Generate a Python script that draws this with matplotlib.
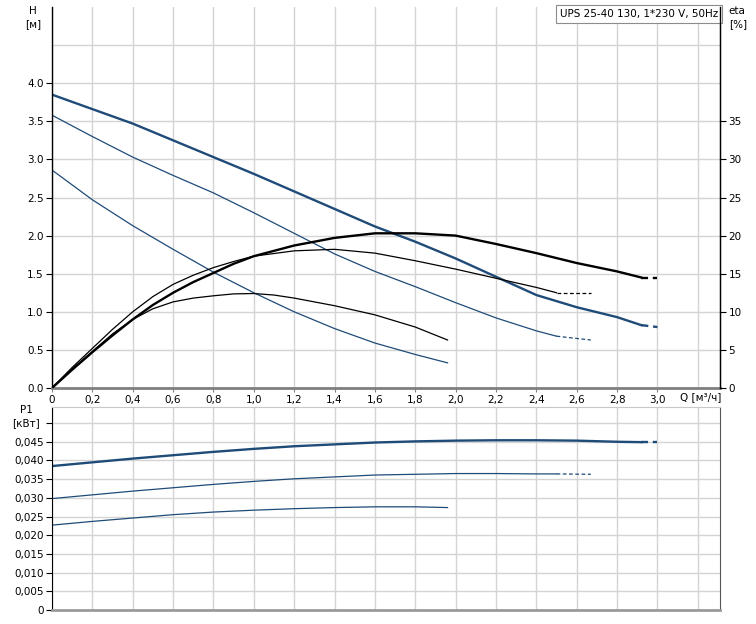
import numpy as np
import matplotlib
matplotlib.use("Agg")
import matplotlib.pyplot as plt
import matplotlib.transforms as mtransforms
from matplotlib.ticker import FuncFormatter

# --- Data ---
# speed 3 (thick)
q3 = [0, 0.2, 0.4, 0.6, 0.8, 1.0, 1.2, 1.4, 1.6, 1.8, 2.0, 2.2, 2.4, 2.6, 2.8, 2.92]
h3 = [3.85, 3.66, 3.47, 3.25, 3.03, 2.81, 2.58, 2.35, 2.12, 1.92, 1.70, 1.46, 1.22, 1.06, 0.93, 0.825]
p3 = [0.0385, 0.0395, 0.0405, 0.0414, 0.0423, 0.0431, 0.0438, 0.0443, 0.0448, 0.0451, 0.0453,
      0.0454, 0.0454, 0.0453, 0.0450, 0.0449]
q3_eta = [0, 0.1, 0.2, 0.3, 0.4, 0.5, 0.6, 0.7, 0.8, 0.9, 1.0, 1.2, 1.4, 1.6, 1.8,
          2.0, 2.2, 2.4, 2.6, 2.8, 2.92]
eta3 = [0, 2.4, 4.7, 6.9, 9.0, 10.9, 12.5, 13.9, 15.1, 16.3, 17.3, 18.7, 19.7, 20.3, 20.3,
        20.0, 18.9, 17.7, 16.4, 15.3, 14.5]
q3_ext = [2.92, 3.0]
h3_ext = [0.825, 0.80]
eta3_ext = [14.5, 14.5]
p3_ext = [0.0449, 0.0449]

# speed 2
q2 = [0, 0.2, 0.4, 0.6, 0.8, 1.0, 1.2, 1.4, 1.6, 1.8, 2.0, 2.2, 2.4, 2.5]
h2 = [3.58, 3.30, 3.03, 2.79, 2.56, 2.30, 2.03, 1.76, 1.53, 1.33, 1.12, 0.92, 0.75, 0.68]
p2 = [0.0298, 0.0308, 0.0318, 0.0327, 0.0336, 0.0344, 0.0351, 0.0356, 0.0361, 0.0363, 0.0365,
      0.0365, 0.0364, 0.0364]
q2_eta = [0, 0.1, 0.2, 0.3, 0.4, 0.5, 0.6, 0.7, 0.8, 0.9, 1.0, 1.2, 1.4, 1.6, 1.8,
          2.0, 2.2, 2.4, 2.5]
eta2 = [0, 2.7, 5.2, 7.7, 10.0, 12.0, 13.6, 14.8, 15.8, 16.6, 17.3, 18.0, 18.2, 17.7, 16.7,
        15.6, 14.4, 13.2, 12.5]
q2_ext = [2.5, 2.67]
h2_ext = [0.68, 0.63]
eta2_ext = [12.5, 12.5]
p2_ext = [0.0364, 0.0363]

# speed 1
q1 = [0, 0.2, 0.4, 0.6, 0.8, 1.0, 1.2, 1.4, 1.6, 1.8, 1.96]
h1 = [2.86, 2.47, 2.13, 1.82, 1.52, 1.25, 1.00, 0.78, 0.59, 0.44, 0.33]
p1 = [0.0227, 0.0237, 0.0246, 0.0255, 0.0262, 0.0267, 0.0271, 0.0274, 0.0276, 0.0276, 0.0274]
q1_eta = [0, 0.1, 0.2, 0.3, 0.4, 0.5, 0.6, 0.7, 0.8, 0.9, 1.0, 1.1, 1.2, 1.4, 1.6, 1.8, 1.96]
eta1 = [0, 2.5, 4.8, 7.1, 9.0, 10.4, 11.3, 11.8, 12.1, 12.35, 12.4, 12.2, 11.8, 10.8, 9.6, 8.0, 6.3]

x_ticks = [0, 0.2, 0.4, 0.6, 0.8, 1.0, 1.2, 1.4, 1.6, 1.8, 2.0, 2.2, 2.4, 2.6, 2.8, 3.0]
h_ticks = [0, 0.5, 1.0, 1.5, 2.0, 2.5, 3.0, 3.5, 4.0]
eta_ticks = [0, 5, 10, 15, 20, 25, 30, 35]
p_ticks = [0, 0.005, 0.01, 0.015, 0.02, 0.025, 0.03, 0.035, 0.04, 0.045]

BLUE = '#1f4b78'
BLACK = '#000000'
GRID = '#d4d4d4'
FS = 7.5

plt.rcParams['font.family'] = ['DejaVu Sans']
plt.rcParams['font.size'] = FS

fig = plt.figure(figsize=(7.56, 6.24), dpi=100)
ax = fig.add_axes([52 / 756, 1 - 388 / 624, 668 / 756, 381 / 624])
axe = ax.twinx()
axp = fig.add_axes([52 / 756, 1 - 610 / 624, 668 / 756, 203 / 624])

# --- top panel: head / efficiency ---
ax.set_xlim(0, 3.31)
ax.set_ylim(0, 5.0)
axe.set_ylim(0, 50)

ax.set_xticks(x_ticks + [3.2])
ax.set_xticklabels([('%.1f' % v).replace('.', ',') if v != 0 else '0' for v in x_ticks] + [''])
ax.set_yticks(h_ticks + [4.5])
ax.set_yticklabels(['%.1f' % v for v in h_ticks] + [''])
ax.tick_params(axis='y', length=4, width=0.8, pad=2)
ax.tick_params(axis='x', length=3, width=0.8, pad=2, color='#808080')
ax.grid(True, color=GRID, linewidth=1.0)
ax.set_axisbelow(True)
for tl in ax.get_yticklines()[-2:]:
    tl.set_visible(False)
ax.xaxis.get_major_ticks()[-1].tick1line.set_visible(False)

axe.set_yticks(eta_ticks)
axe.tick_params(axis='y', length=4, width=0.8, pad=2)

for a in (ax, axe):
    a.spines['top'].set_visible(False)
ax.spines['left'].set_linewidth(1.0)
ax.spines['bottom'].set_color('#7f7f7f')
ax.spines['bottom'].set_linewidth(2.0)
axe.spines['right'].set_linewidth(1.0)
axe.spines['left'].set_visible(False)
axe.spines['bottom'].set_visible(False)

# head curves
ax.plot(q3, h3, color=BLUE, lw=1.7)
ax.plot(q3_ext, h3_ext, color=BLUE, lw=1.7, ls=(0, (3, 2)))
ax.plot(q2, h2, color=BLUE, lw=0.9)
ax.plot(q2_ext, h2_ext, color=BLUE, lw=0.9, ls=(0, (3, 2)))
ax.plot(q1, h1, color=BLUE, lw=0.9)

# efficiency curves
axe.plot(q3_eta, eta3, color=BLACK, lw=1.7)
axe.plot(q3_ext, eta3_ext, color=BLACK, lw=1.7, ls=(0, (3, 2)))
axe.plot(q2_eta, eta2, color=BLACK, lw=0.9)
axe.plot(q2_ext, eta2_ext, color=BLACK, lw=0.9, ls=(0, (3, 2)))
axe.plot(q1_eta, eta1, color=BLACK, lw=0.9)

# axis captions
fig.text(33 / 756, 1 - 11 / 624, 'H', ha='center', va='center', fontsize=FS)
fig.text(33 / 756, 1 - 24 / 624, '[м]', ha='center', va='center', fontsize=FS)
fig.text(737 / 756, 1 - 11 / 624, 'eta', ha='center', va='center', fontsize=FS)
fig.text(738 / 756, 1 - 24 / 624, '[%]', ha='center', va='center', fontsize=FS)
trans = mtransforms.blended_transform_factory(ax.transData, ax.transAxes)
ax.text(3.11, -0.012, 'Q [м³/ч]', transform=trans, ha='left', va='top', fontsize=FS)

ax.text(0.997, 0.995, 'UPS 25-40 130, 1*230 V, 50Hz', transform=ax.transAxes,
        ha='right', va='top', fontsize=FS,
        bbox=dict(boxstyle='square,pad=0.35', facecolor='white', edgecolor='#8c8c8c', linewidth=0.8))

# --- bottom panel: power ---
axp.set_xlim(0, 3.31)
axp.set_ylim(0, 0.0543)
axp.set_xticks(x_ticks + [3.2])
axp.set_xticklabels([])
axp.tick_params(axis='x', length=0)
axp.set_yticks(p_ticks + [0.05])
axp.yaxis.set_major_formatter(FuncFormatter(
    lambda v, pos: '' if abs(v - 0.05) < 1e-9 else ('0' if v == 0 else ('%.3f' % v).replace('.', ','))))
axp.tick_params(axis='y', length=4, width=0.8, pad=2)
axp.grid(True, color=GRID, linewidth=1.0)
axp.set_axisbelow(True)
axp.spines['top'].set_color('#c8c8c8')
axp.spines['right'].set_color('#555555')
axp.spines['bottom'].set_color('#9a9a9a')
axp.spines['bottom'].set_linewidth(2.0)

axp.plot(q3, p3, color=BLUE, lw=1.7)
axp.plot(q3_ext, p3_ext, color=BLUE, lw=1.7, ls=(0, (3, 2)))
axp.plot(q2, p2, color=BLUE, lw=0.9)
axp.plot(q2_ext, p2_ext, color=BLUE, lw=0.9, ls=(0, (3, 2)))
axp.plot(q1, p1, color=BLUE, lw=0.9)

fig.text(26 / 756, 1 - 410 / 624, 'P1', ha='center', va='center', fontsize=FS)
fig.text(26 / 756, 1 - 423 / 624, '[кВт]', ha='center', va='center', fontsize=FS)

fig.savefig('out.png', dpi=100)
